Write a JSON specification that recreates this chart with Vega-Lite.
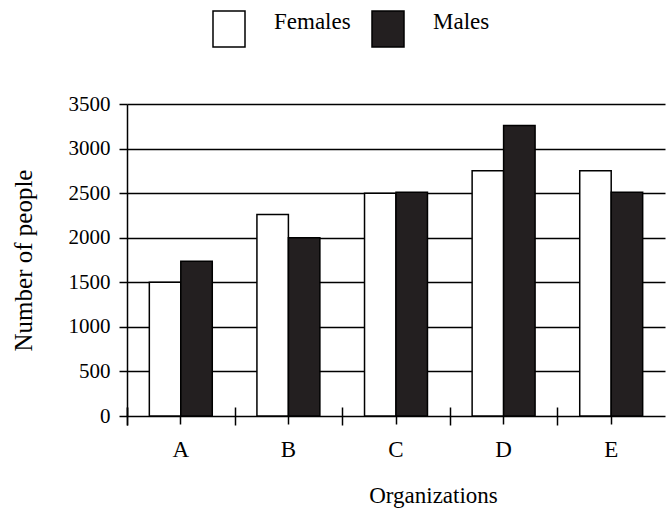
{
  "$schema": "https://vega.github.io/schema/vega-lite/v6.json",
  "autosize": {"type": "none"},
  "width": 538,
  "height": 312,
  "padding": {"left": 127, "top": 104, "right": 6, "bottom": 92},
  "background": "white",
  "data": {
    "values": [
      {"org": "A", "sex": "Females", "people": 1500},
      {"org": "A", "sex": "Males", "people": 1735},
      {"org": "B", "sex": "Females", "people": 2260},
      {"org": "B", "sex": "Males", "people": 2000},
      {"org": "C", "sex": "Females", "people": 2500},
      {"org": "C", "sex": "Males", "people": 2510},
      {"org": "D", "sex": "Females", "people": 2750},
      {"org": "D", "sex": "Males", "people": 3260},
      {"org": "E", "sex": "Females", "people": 2750},
      {"org": "E", "sex": "Males", "people": 2510}
    ]
  },
  "config": {
    "view": {"stroke": null},
    "font": "Liberation Serif",
    "axis": {
      "labelFont": "Liberation Serif",
      "titleFont": "Liberation Serif",
      "labelColor": "black",
      "titleColor": "black",
      "titleFontWeight": "normal",
      "domainColor": "black",
      "domainWidth": 1.5,
      "tickColor": "black",
      "tickWidth": 1.5
    }
  },
  "resolve": {"axis": {"x": "independent"}},
  "layer": [
    {
      "mark": {"type": "bar", "stroke": "black", "strokeWidth": 1.5},
      "encoding": {
        "x": {
          "field": "org",
          "type": "nominal",
          "scale": {"paddingInner": 0.415, "paddingOuter": 0.2075},
          "axis": {
            "orient": "bottom",
            "title": "Organizations",
            "titleFont": "Liberation Serif",
            "titleFontSize": 23,
            "titleX": 306,
            "titlePadding": 23,
            "labelFont": "Liberation Serif",
            "labelFontSize": 23,
            "labelAngle": 0,
            "labelPadding": 14,
            "tickSize": 8,
            "grid": false
          }
        },
        "xOffset": {"field": "sex", "type": "nominal", "scale": {"paddingInner": 0, "paddingOuter": 0}},
        "y": {
          "field": "people",
          "type": "quantitative",
          "scale": {"domain": [0, 3500], "nice": false},
          "axis": {
            "title": "Number of people",
            "titleFont": "Liberation Serif",
            "titleFontSize": 25,
            "titlePadding": 32,
            "values": [0, 250, 500, 750, 1000, 1250, 1500, 1750, 2000, 2250, 2500, 2750, 3000, 3250, 3500],
            "format": "d",
            "labelExpr": "datum.value % 500 === 0 ? datum.label : ''",
            "labelFont": "Liberation Serif",
            "labelFontSize": 21,
            "labelPadding": 9,
            "tickSize": 8,
            "grid": true,
            "gridColor": "black",
            "gridWidth": 1.5,
            "gridOpacity": {"condition": {"test": "datum.value % 500 === 0 && datum.value > 0", "value": 1}, "value": 0}
          }
        },
        "color": {
          "field": "sex",
          "type": "nominal",
          "scale": {"domain": ["Females", "Males"], "range": ["white", "#231f20"]},
          "legend": {
            "orient": "none",
            "legendX": 83,
            "legendY": -94,
            "direction": "horizontal",
            "title": null,
            "padding": 0,
            "symbolType": "M-0.889,-1H0.889V1H-0.889Z",
            "symbolSize": 1296,
            "symbolStrokeColor": "black",
            "symbolStrokeWidth": 1.5,
            "labelFont": "Liberation Serif",
            "labelFontSize": 23,
            "labelColor": "black",
            "labelBaseline": "alphabetic",
            "labelOffset": 26,
            "columnPadding": 17
          }
        }
      }
    },
    {
      "mark": {"type": "bar", "opacity": 0},
      "encoding": {
        "x": {
          "field": "org",
          "type": "nominal",
          "axis": {
            "orient": "bottom",
            "title": null,
            "labels": false,
            "domain": false,
            "grid": false,
            "bandPosition": 0,
            "tickOffset": -22.3,
            "tickExtra": true,
            "tickSize": 9
          }
        },
        "xOffset": {"field": "sex", "type": "nominal"},
        "y": {"field": "people", "type": "quantitative"}
      }
    },
    {
      "mark": {"type": "bar", "opacity": 0},
      "encoding": {
        "x": {
          "field": "org",
          "type": "nominal",
          "axis": {
            "orient": "bottom",
            "title": null,
            "labels": false,
            "domain": false,
            "grid": false,
            "bandPosition": 0,
            "tickOffset": -22.3,
            "tickExtra": true,
            "tickSize": -9
          }
        },
        "xOffset": {"field": "sex", "type": "nominal"},
        "y": {"field": "people", "type": "quantitative"}
      }
    }
  ]
}
